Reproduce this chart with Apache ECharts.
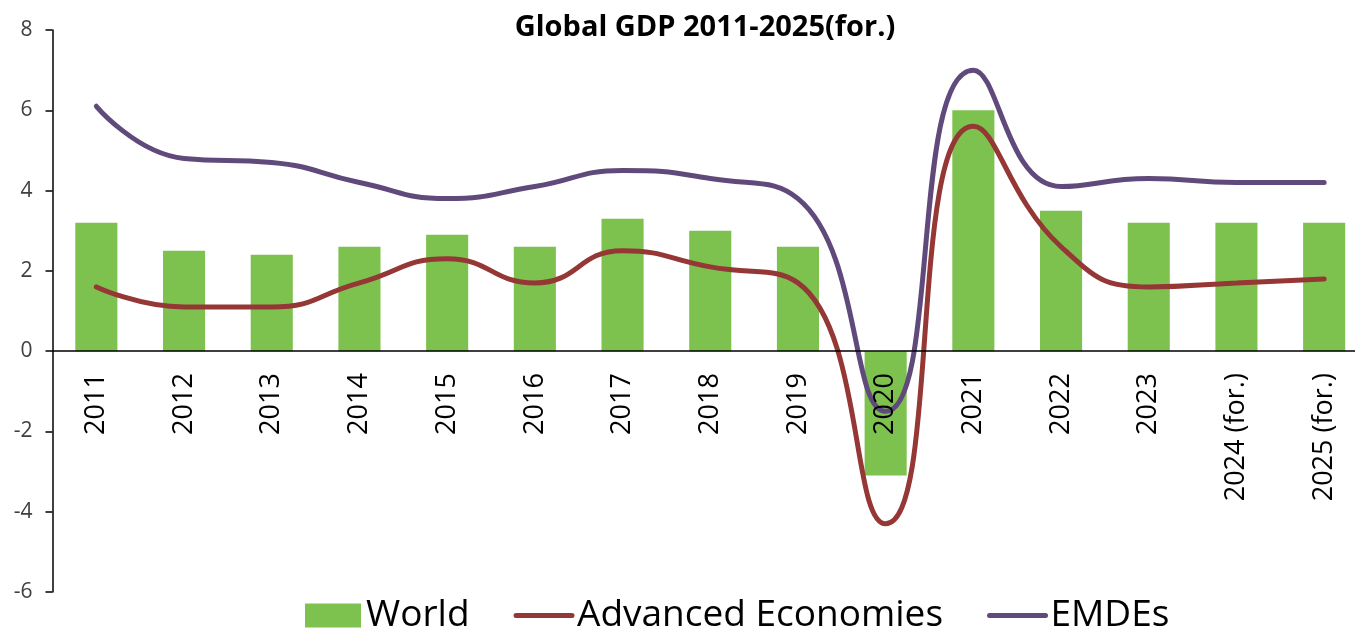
<!DOCTYPE html>
<html>
<head>
<meta charset="utf-8">
<script src="https://cdn.jsdelivr.net/npm/echarts@6/dist/echarts.min.js"></script>
<style>
  html, body { margin: 0; padding: 0; background: #fff; }
  #chart { width: 1355px; height: 628px; }
</style>
</head>
<body>
<div id="chart"></div>
<script>
const years = ['2011', '2012', '2013', '2014', '2015', '2016', '2017', '2018', '2019', '2020', '2021', '2022', '2023', '2024 (for.)', '2025 (for.)']
const world = [3.2, 2.5, 2.4, 2.6, 2.9, 2.6, 3.3, 3.0, 2.6, -3.1, 6.0, 3.5, 3.2, 3.2, 3.2]
const advanced = [1.6, 1.1, 1.1, 1.7, 2.3, 1.7, 2.5, 2.1, 1.7, -4.3, 5.6, 2.6, 1.6, 1.7, 1.8]
const emdes = [6.1, 4.8, 4.7, 4.2, 3.8, 4.1, 4.5, 4.3, 3.8, -1.5, 7.0, 4.1, 4.3, 4.2, 4.2]
const yMin = -6
const yMax = 8

const chart = echarts.init(document.getElementById('chart'))

const font = '"Open Sans", sans-serif'
const gridTop = 30
const gridHeight = 562
// put the category axis (line + labels) at y = 0
const zeroOffset = -gridHeight * (0 - yMin) / (yMax - yMin)

const option = {
  animation: false,
  title: {
    text: 'Global GDP 2011-2025(for.)',
    left: 700,
    top: 8,
    textAlign: 'center',
    textStyle: { fontFamily: font, fontSize: 29, fontWeight: 'bold', color: '#000' }
  },
  legend: {
    left: 300,
    top: 592,
    itemWidth: 56,
    itemHeight: 24,
    itemGap: 44,
    textStyle: { fontFamily: font, fontSize: 37, color: '#000' },
    lineStyle: { width: 5, cap: 'round' },
    data: [
      { name: 'World', icon: 'rect' },
      { name: 'Advanced Economies', itemStyle: { opacity: 0 } },
      { name: 'EMDEs', itemStyle: { opacity: 0 } }
    ]
  },
  grid: {
    left: 52.5,
    top: gridTop,
    width: 1315.5,
    height: gridHeight,
    outerBoundsMode: 'none',
    containLabel: false
  },
  xAxis: {
    type: 'category',
    data: years,
    offset: zeroOffset,
    z: 10,
    axisLine: { onZero: false, lineStyle: { color: '#000', width: 1.5 } },
    axisTick: { show: false },
    axisLabel: {
      interval: 0,
      rotate: 90,
      margin: 22,
      fontFamily: font,
      fontSize: 27,
      color: '#000'
    }
  },
  yAxis: {
    type: 'value',
    min: yMin,
    max: yMax,
    interval: 2,
    splitLine: { show: false },
    axisLine: { show: true, lineStyle: { color: '#000', width: 1.5 } },
    axisTick: { show: true, length: 7, lineStyle: { color: '#000', width: 1.5 } },
    axisLabel: { margin: 20, fontFamily: font, fontSize: 21, color: '#404040' }
  },
  series: [
    {
      name: 'World',
      type: 'bar',
      data: world,
      barWidth: '48%',
      itemStyle: { color: '#7DC24F' }
    },
    {
      name: 'Advanced Economies',
      type: 'line',
      data: advanced,
      smooth: 0.5,
      symbol: 'none',
      lineStyle: { color: '#953735', width: 5, cap: 'round' },
      itemStyle: { color: '#953735' }
    },
    {
      name: 'EMDEs',
      type: 'line',
      data: emdes,
      smooth: 0.5,
      symbol: 'none',
      lineStyle: { color: '#604A7B', width: 5, cap: 'round' },
      itemStyle: { color: '#604A7B' }
    }
  ]
}

chart.setOption(option)
</script>
</body>
</html>
